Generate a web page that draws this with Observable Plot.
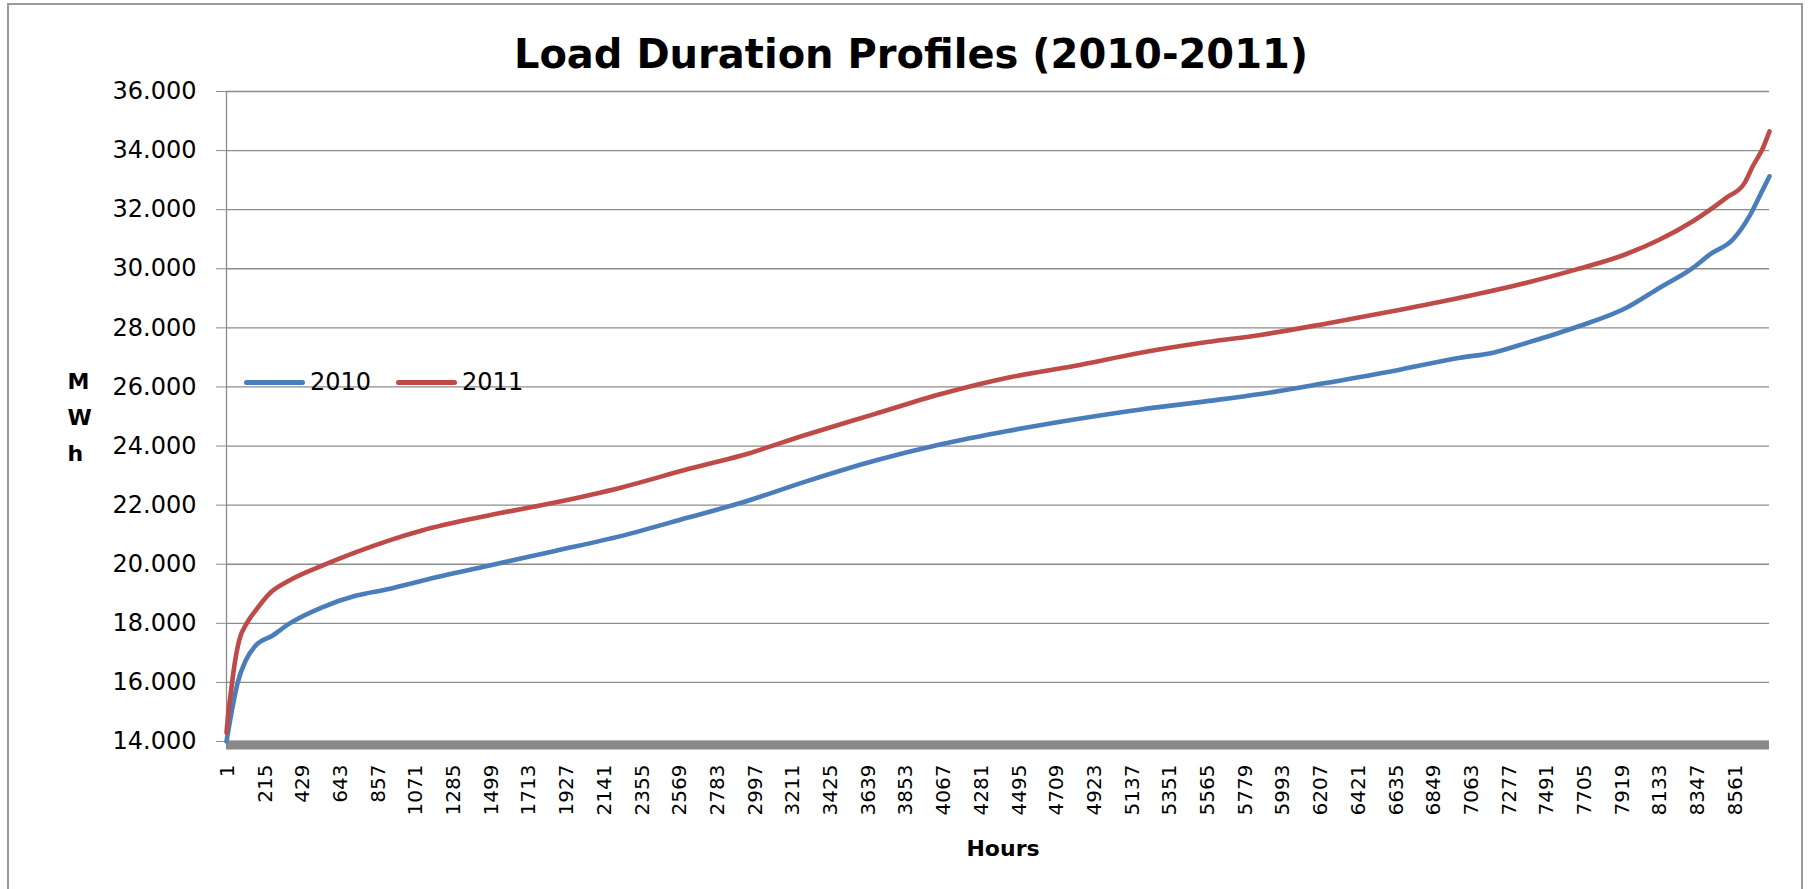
<!DOCTYPE html>
<html><head><meta charset="utf-8">
<script src="https://cdn.jsdelivr.net/npm/d3@7"></script>
<script src="https://cdn.jsdelivr.net/npm/@observablehq/plot@0.6"></script>
<style>
html,body{margin:0;padding:0;background:#fff;overflow:hidden;width:1810px;height:889px;}
#wrap{position:relative;width:1810px;height:889px;}
#chart{position:absolute;left:0;top:0;}
#border{position:absolute;left:7px;top:3px;width:1796px;height:940px;border:2px solid #9a9a9a;box-sizing:border-box;pointer-events:none;}
#title{position:absolute;left:411px;width:1000px;top:29px;text-align:center;font:bold 40px "DejaVu Sans";line-height:50px;color:#000;}
#legend{position:absolute;left:244px;top:368px;height:28px;display:flex;align-items:center;font:24px "DejaVu Sans";color:#000;}
#legend .item{display:flex;align-items:center;margin-right:25px;}
#legend .sw{display:inline-block;width:61px;height:5px;border-radius:3px;margin-right:5px;}
</style></head>
<body><div id="wrap"><div id="chart"></div><div id="border"></div><div id="title">Load Duration Profiles (2010-2011)</div><div id="legend"></div></div>
<script>
// Series names and colours
const seriesNames = ["2010", "2011"];
const seriesColors = ["#4A7EBB", "#BE4B48"];

// 2010 load duration curve (hour rank, MWh)
const hours2010 = [1, 35, 63, 110, 166, 261, 355, 544, 733, 922, 1110, 1488, 1866, 2244, 2622, 2924, 3301, 3679, 4057, 4435, 4813, 5191, 5568, 5870, 6248, 6625, 7003, 7192, 7381, 7665, 7948, 8137, 8325, 8420, 8552, 8646, 8703, 8760];
const mwh2010  = [14000, 15160, 15960, 16740, 17240, 17580, 17980, 18540, 18930, 19160, 19440, 19950, 20450, 20960, 21580, 22080, 22820, 23500, 24060, 24510, 24900, 25240, 25520, 25760, 26140, 26540, 26990, 27160, 27490, 28030, 28680, 29360, 30030, 30480, 30990, 31780, 32450, 33130];

// 2011 load duration curve
const hours2011 = [1, 12, 25, 44, 72, 119, 166, 242, 355, 544, 733, 922, 1110, 1488, 1866, 2244, 2622, 2924, 3301, 3679, 4057, 4435, 4813, 5191, 5568, 5870, 6248, 6625, 7003, 7381, 7665, 7948, 8137, 8325, 8514, 8618, 8665, 8722, 8760];
const mwh2011  = [14300, 15000, 15620, 16500, 17400, 18030, 18430, 18990, 19440, 19950, 20400, 20800, 21140, 21650, 22090, 22600, 23220, 23680, 24400, 25080, 25760, 26310, 26710, 27160, 27520, 27760, 28150, 28570, 29020, 29530, 29980, 30500, 30990, 31610, 32400, 32900, 33470, 34080, 34650];

// Axis ticks
const xTicks = [1, 215, 429, 643, 857, 1071, 1285, 1499, 1713, 1927, 2141, 2355, 2569, 2783, 2997, 3211, 3425, 3639, 3853, 4067, 4281, 4495, 4709, 4923, 5137, 5351, 5565, 5779, 5993, 6207, 6421, 6635, 6849, 7063, 7277, 7491, 7705, 7919, 8133, 8347, 8561];
const yTicks = [14000, 16000, 18000, 20000, 22000, 24000, 26000, 28000, 30000, 32000, 34000, 36000];
const yTickLabels = ["14.000", "16.000", "18.000", "20.000", "22.000", "24.000", "26.000", "28.000", "30.000", "32.000", "34.000", "36.000"];
const xDomain = [1, 8760];
const yLabelText = "M\nW\nh";
const xLabelText = "Hours";

const rows = [
  ...hours2010.map((h, i) => ({series: seriesNames[0], hour: h, mwh: mwh2010[i]})),
  ...hours2011.map((h, i) => ({series: seriesNames[1], hour: h, mwh: mwh2011[i]}))
];

const grid = "#8c8c8c";
const chart = Plot.plot({
  width: 1810,
  height: 889,
  marginLeft: 226,
  marginRight: 41,
  marginTop: 91,
  marginBottom: 148,
  style: {background: "transparent", overflow: "visible", fontFamily: "DejaVu Sans", fontSize: "24px", color: "#000"},
  x: {domain: xDomain},
  y: {domain: [yTicks[0], yTicks[yTicks.length - 1]]},
  color: {domain: seriesNames, range: seriesColors},
  marks: [
    Plot.ruleY(yTicks, {stroke: grid, strokeWidth: 1.3, strokeOpacity: 1}),
    Plot.ruleX([xDomain[0]], {stroke: grid, strokeWidth: 1.3}),
    Plot.ruleY([yTicks[0]], {stroke: "#888888", strokeWidth: 9, dy: 3.5}),
    Plot.axisY({ticks: yTicks, tickFormat: (d) => yTickLabels[yTicks.indexOf(d)], tickSize: 10, tickPadding: 20, stroke: grid, label: null, fontSize: 24, fontFamily: "DejaVu Sans"}),
    Plot.axisX({ticks: xTicks, tickFormat: (d) => String(d), tickSize: 0, tickPadding: 23, tickRotate: -90, dx: 1, label: null, fontSize: 20, fontFamily: "DejaVu Sans"}),
    Plot.line(rows, {x: "hour", y: "mwh", z: "series", stroke: "series", strokeWidth: 4.6, curve: "monotone-x", strokeLinecap: "round", strokeLinejoin: "round"}),
    Plot.text([yLabelText], {text: (d) => d, frameAnchor: "left", dx: -159, dy: -3, lineHeight: 1.64, fontWeight: "bold", fontSize: 22, fill: "#000"}),
    Plot.text([xLabelText], {text: (d) => d, frameAnchor: "bottom", dx: 5, dy: 114, fontWeight: "bold", fontSize: 22, fill: "#000"})
  ]
});
document.getElementById("chart").appendChild(chart);

const legend = document.getElementById("legend");
seriesNames.forEach((name, i) => {
  const item = document.createElement("div");
  item.className = "item";
  const sw = document.createElement("span");
  sw.className = "sw";
  sw.style.background = seriesColors[i];
  const label = document.createElement("span");
  label.textContent = name;
  item.appendChild(sw);
  item.appendChild(label);
  legend.appendChild(item);
});
</script>
</body></html>
